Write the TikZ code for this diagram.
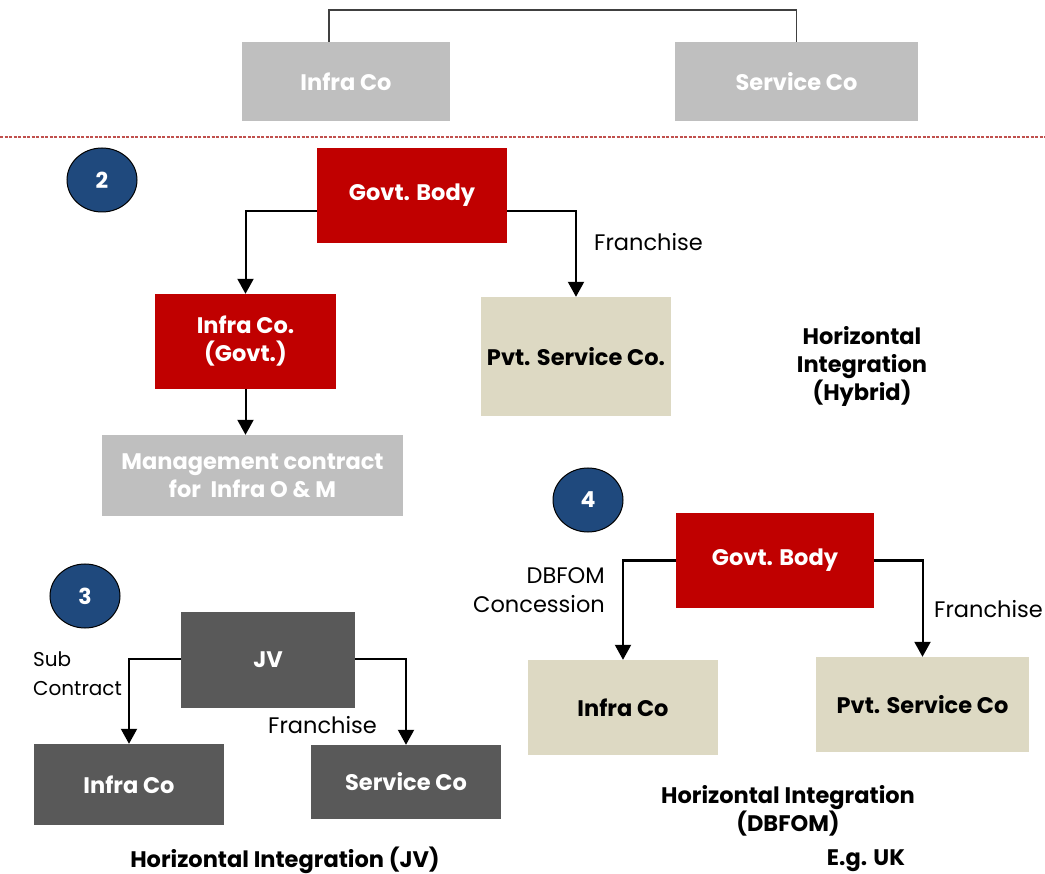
\documentclass[tikz,border=0pt]{standalone}
\usepackage{fontspec}
\setmainfont{Poppins}
\usetikzlibrary{arrows.meta,shapes.geometric}
\definecolor{govred}{HTML}{C00000}
\definecolor{beige}{HTML}{DDD9C3}
\definecolor{lightbox}{HTML}{BFBFBF}
\definecolor{darkbox}{HTML}{595959}
\definecolor{navy}{HTML}{1F497D}
\definecolor{rule}{HTML}{C0504D}
\tikzset{
  box/.style={rectangle, inner sep=2pt, align=center, font=\fontsize{22.5}{28}\selectfont\bfseries},
  redbox/.style={box, fill=govred, text=white},
  beigebox/.style={box, fill=beige, text=black},
  greybox/.style={box, fill=lightbox, text=white},
  darkbox/.style={box, fill=darkbox, text=white},
  badge/.style={ellipse, draw=black, line width=1pt, fill=navy, text=white, inner sep=0pt,
    minimum width=70pt, minimum height=64pt, font=\fontsize{22}{24}\selectfont\bfseries},
  lbl/.style={inner sep=0pt, font=\fontsize{22.5}{29}\selectfont},
  title/.style={inner sep=0pt, align=center, font=\fontsize{22.5}{28}\selectfont\bfseries},
  arr/.style={line width=2pt, -{Triangle[width=16pt,length=15pt]}},
  link/.style={line width=1.5pt, draw=black!75},
}
\begin{document}
\begin{tikzpicture}[x=1pt,y=-1pt]
\useasboundingbox (0,0) rectangle (1045,874);
\clip (0,0) rectangle (1045,874);

% ---- vertical integration (top) ----
\node[greybox, minimum width=208pt, minimum height=79pt] (i1) at (346,81.5) {Infra Co};
\node[greybox, minimum width=243pt, minimum height=79pt] (s1) at (796.5,81.5) {Service Co};
\coordinate (bar) at (0,10);
\draw[link] ([xshift=-17pt]i1.north) -- ([xshift=-17pt]i1.north |- bar) -- (s1.north |- bar) -- (s1.north);

\draw[rule, line width=1.2pt, dash pattern=on 3pt off 1.5pt] (0,137) -- (1045,137);

% ---- 2: hybrid ----
\node[badge] (b2) at (102,180) {2};
\node[redbox, minimum width=190pt, minimum height=95pt] (g2) at (412,195.5) {Govt. Body};
\node[redbox, minimum width=181pt, minimum height=95pt] (ig) at (245.5,341.5) {Infra Co.\\(Govt.)};
\node[beigebox, minimum width=190pt, minimum height=119pt] (p2) at (576,356.5) {Pvt. Service Co.};
\node[greybox, minimum width=301pt, minimum height=81pt] (mg) at (252.5,475.5) {Management contract\\for\ \ Infra O \& M};
\draw[arr] ([yshift=-15.5pt]g2.west) -| (ig.north);
\draw[arr] ([yshift=-15.5pt]g2.east) -| (p2.north);
\draw[arr] (ig.south) -- (ig.south |- mg.north);
\node[lbl, anchor=west] (f2) at (594,242) {Franchise};
\node[title] (t2) at (862,366) {Horizontal\\Integration\\(Hybrid)};

% ---- 4: DBFOM ----
\node[badge] (b4) at (588,500) {4};
\node[redbox, minimum width=198pt, minimum height=95pt] (g4) at (775,560.5) {Govt. Body};
\node[beigebox, minimum width=190pt, minimum height=95pt] (i4) at (623,707.5) {Infra Co};
\node[beigebox, minimum width=213pt, minimum height=95pt] (p4) at (922.5,704.5) {Pvt. Service Co};
\draw[arr] (g4.west) -| (i4.north);
\draw[arr] (g4.east) -| (p4.north);
\node[lbl, anchor=east, align=right] (c4) at (605,590.5) {DBFOM\\Concession};
\node[lbl, anchor=west] (f4) at (934,609) {Franchise};
\node[title] (t4) at (788,811) {Horizontal Integration\\(DBFOM)};
\node[title] (eg) at (866,861) {E.g. UK};

% ---- 3: joint venture ----
\node[badge] (b3) at (85,596) {3};
\node[darkbox, minimum width=174pt, minimum height=96pt] (jv) at (268,660) {JV};
\node[darkbox, minimum width=190pt, minimum height=81pt] (i3) at (129,784.5) {Infra Co};
\node[darkbox, minimum width=190pt, minimum height=74pt] (s3) at (406,782) {Service Co};
\draw[arr] ([yshift=1pt]jv.west) -| (i3.north);
\draw[arr] ([yshift=1pt]jv.east) -| (s3.north);
\node[lbl, anchor=west, align=left, font=\fontsize{20}{29}\selectfont] (sc) at (33,673.5) {Sub\\Contract};
\node[lbl, anchor=west] (f3) at (268,725) {Franchise};
\node[title] (t3) at (285,860) {Horizontal Integration (JV)};
\end{tikzpicture}
\end{document}
